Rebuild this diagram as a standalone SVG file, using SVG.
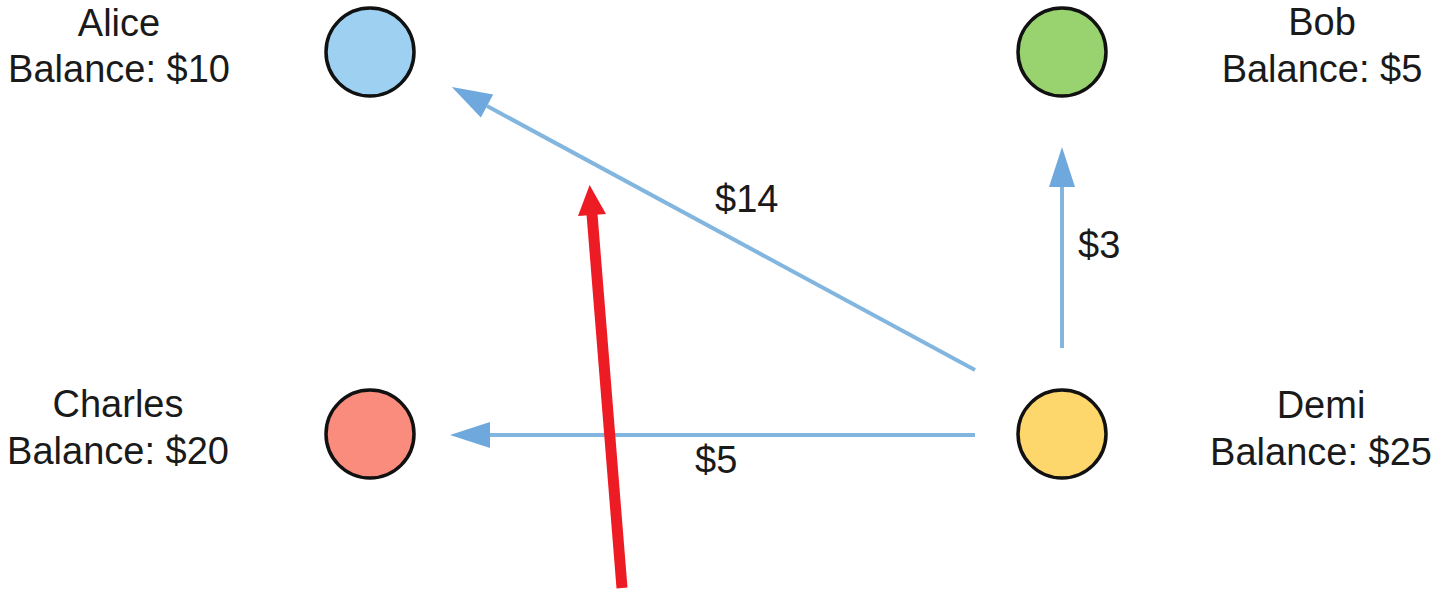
<svg xmlns="http://www.w3.org/2000/svg" width="1435" height="591" viewBox="0 0 1435 591">
<style>
.lbl{font-family:"Liberation Sans",Arial,sans-serif;font-size:38px;fill:#1a1a1a;}
.mid{text-anchor:middle;}
.node{stroke:#111;stroke-width:3.5;}
.edge{stroke:#82b6df;stroke-width:4;fill:none;marker-end:url(#ah);}
</style>
<defs>
<marker id="ah" markerUnits="userSpaceOnUse" viewBox="0 -13 40 26" refX="0" refY="0" markerWidth="40" markerHeight="26" orient="auto" overflow="visible">
<path d="M0,-13 L40,0 L0,13 Z" fill="#6fa8dc"/>
</marker>
</defs>
<rect width="1435" height="591" fill="#ffffff"/>
<g id="connectors">
<line class="edge" x1="975" y1="370" x2="487" y2="106"/>
<text class="lbl" x="715" y="212">$14</text>
<line class="edge" x1="1062" y1="348" x2="1062" y2="187"/>
<text class="lbl" x="1078" y="258">$3</text>
<line class="edge" x1="975" y1="435" x2="490" y2="435"/>
<text class="lbl" x="695" y="473">$5</text>
</g>
<g id="alice">
<circle class="node" cx="370" cy="52" r="44" fill="#9dd0f1"/>
<text class="lbl mid" x="119" y="36">Alice</text>
<text class="lbl mid" x="119" y="82">Balance: $10</text>
</g>
<g id="bob">
<circle class="node" cx="1062" cy="52" r="44" fill="#98d36f"/>
<text class="lbl mid" x="1322" y="35">Bob</text>
<text class="lbl mid" x="1322" y="82">Balance: $5</text>
</g>
<g id="charles">
<circle class="node" cx="370" cy="434" r="44" fill="#f98c7c"/>
<text class="lbl mid" x="118" y="417">Charles</text>
<text class="lbl mid" x="118" y="464">Balance: $20</text>
</g>
<g id="demi">
<circle class="node" cx="1062" cy="434" r="44" fill="#fdd66c"/>
<text class="lbl mid" x="1321" y="418">Demi</text>
<text class="lbl mid" x="1321" y="465">Balance: $25</text>
</g>
<g id="red-arrow">
<line x1="622" y1="588" x2="592" y2="214" stroke="#ed1c24" stroke-width="11"/>
<polygon points="589.6,185 606,213.9 578,216.1" fill="#ed1c24"/>
</g>
</svg>
